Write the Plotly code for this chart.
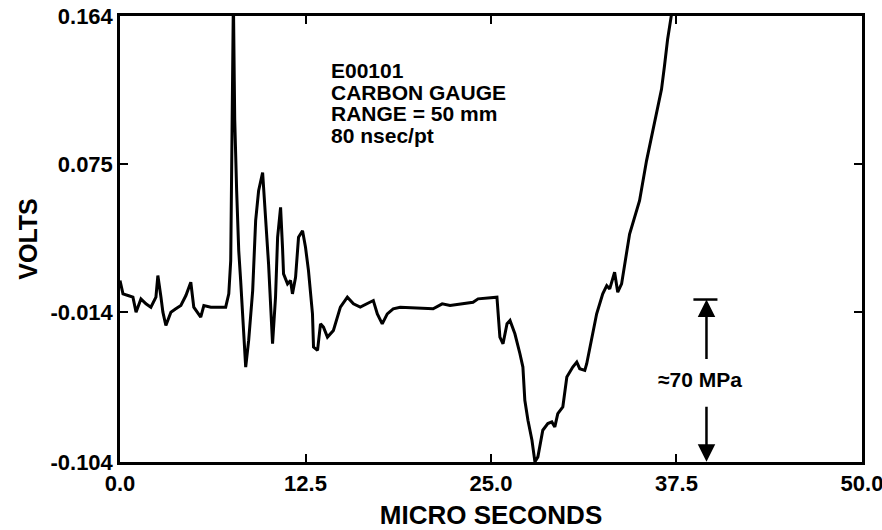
import plotly.graph_objects as go

# time in microseconds
time_us = [0.0, 0.20, 0.54, 0.87, 1.08, 1.41, 1.75, 2.08, 2.42, 2.55, 2.76, 2.89, 3.09, 3.43, 3.76,
           4.10, 4.44, 4.77, 4.97, 5.44, 5.65, 6.12, 7.12, 7.33, 7.46, 7.59, 7.64, 7.70, 7.73, 7.86,
           8.00, 8.13, 8.33, 8.47, 8.67, 8.94, 9.14, 9.34, 9.61, 9.81, 10.01, 10.28, 10.48, 10.62,
           10.82, 10.95, 11.02, 11.29, 11.49, 11.62, 11.83, 12.03, 12.30, 12.50, 12.70, 12.97, 13.04,
           13.31, 13.51, 13.71, 13.98, 14.38, 14.85, 15.32, 15.73, 16.19, 16.67, 17.07, 17.34, 17.67,
           18.01, 18.41, 18.88, 21.10, 21.71, 22.24, 23.79, 24.13, 25.40, 25.47, 25.60, 25.81, 26.08,
           26.28, 26.61, 26.95, 27.15, 27.28, 27.49, 27.76, 27.96, 28.16, 28.49, 28.83, 29.10, 29.30,
           29.50, 29.84, 30.11, 30.51, 30.78, 30.98, 31.32, 31.45, 32.12, 32.53, 32.80, 33.00, 33.33,
           33.54, 33.80, 34.34, 34.54, 35.01, 35.48, 36.16, 36.49, 36.69, 36.90, 37.25]

# gauge output in volts
volts = [0.005, -0.003, -0.004, -0.005, -0.014, -0.006, -0.009, -0.011, -0.005, 0.008, -0.005, -0.014,
         -0.022, -0.014, -0.012, -0.010, -0.004, 0.004, -0.011, -0.017, -0.010, -0.011, -0.011, -0.003,
         0.017, 0.114, 0.175, 0.125, 0.102, 0.059, 0.023, 0.005, -0.031, -0.047, -0.031, -0.001, 0.041,
         0.059, 0.070, 0.045, 0.015, -0.033, -0.005, 0.031, 0.049, 0.025, 0.009, 0.003, 0.005, -0.003,
         0.007, 0.031, 0.035, 0.025, 0.011, -0.015, -0.035, -0.037, -0.021, -0.023, -0.029, -0.025,
         -0.011, -0.005, -0.009, -0.011, -0.009, -0.007, -0.015, -0.021, -0.015, -0.012, -0.011, -0.012,
         -0.009, -0.010, -0.008, -0.006, -0.005, -0.013, -0.029, -0.033, -0.021, -0.019, -0.027, -0.039,
         -0.047, -0.067, -0.079, -0.091, -0.104, -0.101, -0.085, -0.081, -0.080, -0.083, -0.075, -0.071,
         -0.053, -0.047, -0.044, -0.048, -0.049, -0.045, -0.015, -0.003, 0.002, 0.000, 0.010, -0.002,
         0.003, 0.033, 0.039, 0.053, 0.077, 0.106, 0.120, 0.134, 0.150, 0.170]

x_ticks = [0.0, 12.5, 25.0, 37.5, 50.0]
x_tick_labels = ["0.0", "12.5", "25.0", "37.5", "50.0"]
y_ticks = [-0.104, -0.014, 0.075, 0.164]
y_tick_labels = ["-0.104", "-0.014", "0.075", "0.164"]

info_lines = ["E00101", "CARBON GAUGE", "RANGE = 50 mm", "80 nsec/pt"]
info_y = [0.1315, 0.1183, 0.1057, 0.0925]

pressure_label = "\u224870 MPa"
arrow_x = 39.52
arrow_top = -0.0064
arrow_bottom = -0.104

FONT = "Liberation Sans, Arial, sans-serif"

fig = go.Figure()
fig.add_trace(go.Scatter(x=time_us, y=volts, mode="lines",
                         line=dict(color="black", width=3), showlegend=False,
                         hoverinfo="skip"))

for txt, yy in zip(info_lines, info_y):
    fig.add_annotation(x=14.18, y=yy, xref="x", yref="y", text="<b>" + txt + "</b>",
                       showarrow=False, xanchor="left", yanchor="middle", borderpad=0,
                       font=dict(family=FONT, size=21, color="black"))

# pressure bracket
fig.add_shape(type="line", x0=38.64, x1=40.26, y0=arrow_top, y1=arrow_top,
              xref="x", yref="y", line=dict(color="black", width=2.5))
fig.add_annotation(x=arrow_x, y=arrow_top, ax=arrow_x, ay=-0.043, xref="x", yref="y",
                   axref="x", ayref="y", text="", showarrow=True, arrowhead=2,
                   arrowsize=1.4, arrowwidth=2.5, arrowcolor="black", standoff=0)
fig.add_annotation(x=arrow_x, y=arrow_bottom, ax=arrow_x, ay=-0.070, xref="x", yref="y",
                   axref="x", ayref="y", text="", showarrow=True, arrowhead=2,
                   arrowsize=1.4, arrowwidth=2.5, arrowcolor="black", standoff=0)
fig.add_annotation(x=36.1, y=-0.0545, xref="x", yref="y", text="<b>" + pressure_label + "</b>",
                   showarrow=False, xanchor="left", yanchor="middle",
                   font=dict(family=FONT, size=21, color="black"))

axis_common = dict(showline=True, linecolor="black", linewidth=2.5, mirror="ticks",
                   ticks="inside", ticklen=8, tickwidth=2, tickcolor="black",
                   showgrid=False, zeroline=False, automargin=False,
                   ticklabeloverflow="allow",
                   tickfont=dict(family=FONT, size=22, color="black"))

fig.update_xaxes(range=[-0.001, 50.001], tickvals=x_ticks,
                 ticktext=["<b>" + t + "</b>" for t in x_tick_labels],
                 title=dict(text="<b>MICRO SECONDS</b>", standoff=16,
                            font=dict(family=FONT, size=26, color="black")),
                 **axis_common)
fig.update_yaxes(range=[-0.1041, 0.1641], tickvals=y_ticks,
                 ticktext=["<b>" + t + "</b>" for t in y_tick_labels],
                 title=dict(text="<b>VOLTS</b>", standoff=6,
                            font=dict(family=FONT, size=25, color="black")),
                 **axis_common)

fig.update_layout(width=882, height=530, margin=dict(l=120, r=20, t=16, b=68),
                  plot_bgcolor="white", paper_bgcolor="white", showlegend=False)

# remove the page's default 8px body margin so the figure fills the window exactly
fig.write_html("out.html", config={"displayModeBar": False},
               post_script="document.body.style.margin='0px';document.body.style.overflow='hidden';")
